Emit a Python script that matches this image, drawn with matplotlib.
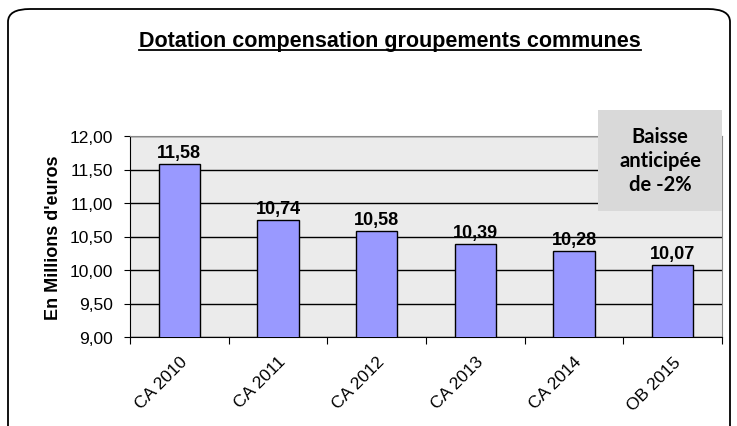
import matplotlib
matplotlib.use('Agg')
import matplotlib.pyplot as plt
from matplotlib.patches import FancyBboxPatch
from matplotlib.lines import Line2D
import numpy as np

categories = ['CA 2010', 'CA 2011', 'CA 2012', 'CA 2013', 'CA 2014', 'OB 2015']
values = [11.58, 10.74, 10.58, 10.39, 10.28, 10.07]
yticks = [9.0, 9.5, 10.0, 10.5, 11.0, 11.5, 12.0]
title = 'Dotation compensation groupements communes'
note = 'Baisse\nanticipée\nde -2%'

plt.rcParams['font.family'] = ['Liberation Sans', 'DejaVu Sans']

fig = plt.figure(figsize=(7.37, 4.27), dpi=100)

# rounded outer frame (bottom edge falls outside the picture)
frame = FancyBboxPatch((8/737, -0.1), 722/737, 1 - 10/427 + 0.1,
                       boxstyle='round,pad=0,rounding_size=0.03',
                       transform=fig.transFigure, fill=False,
                       edgecolor='black', linewidth=1.3)
fig.patches.append(frame)

ax = fig.add_axes([130/737, 1 - 338/427, (722 - 130)/737, (338 - 137)/427])
ax.set_facecolor('#ebebeb')

x = np.arange(len(categories))
ax.bar(x, values, width=0.42, color='#9999ff', edgecolor='black', linewidth=1, zorder=3)
for xi, v in zip(x, values):
    ax.text(xi, v + 0.05, f'{v:.2f}'.replace('.', ','), ha='center', va='bottom',
            fontsize=13, fontweight='bold', zorder=4)

ax.set_ylim(9, 12)
ax.set_xlim(-0.5, len(categories) - 0.5)
ax.set_yticks(yticks)
ax.set_yticklabels([f'{t:.2f}'.replace('.', ',') for t in yticks], fontsize=12.5)
ax.yaxis.grid(True, color='black', linewidth=1, zorder=1)
ax.set_axisbelow(True)

ax.set_xticks(np.arange(len(categories) + 1) - 0.5)
ax.set_xticklabels([])
ax.set_xticks(x, minor=True)
ax.set_xticklabels(categories, minor=True, rotation=45, ha='right',
                   rotation_mode='anchor', fontsize=12.5)
ax.tick_params(axis='x', which='minor', length=0, pad=12)
ax.tick_params(axis='x', which='major', length=5, direction='out')
ax.tick_params(axis='y', length=4, direction='out', pad=8)

for side in ['top', 'right']:
    ax.spines[side].set_color('#888888')
for side in ['left', 'bottom']:
    ax.spines[side].set_color('black')

ax.set_ylabel("En Millions d'euros", fontsize=13, fontweight='bold', labelpad=6)

t = fig.text(390/737, 1 - 42/427, title, ha='center', va='center',
             fontsize=15.5, fontweight='bold')
fig.canvas.draw()
bb = t.get_window_extent().transformed(fig.transFigure.inverted())
fig.add_artist(Line2D([bb.x0, bb.x1], [bb.y0 + 0.004, bb.y0 + 0.004],
                      transform=fig.transFigure, color='black', linewidth=1.3))

# note box
fig.patches.append(plt.Rectangle((598/737, 1 - 212/427), (722 - 598)/737, (212 - 111)/427,
                                 transform=fig.transFigure, facecolor='#d9d9d9',
                                 edgecolor='none', zorder=5))
fig.text(660/737, 1 - 161/427, note, ha='center', va='center', fontsize=14.5,
         fontweight='bold', family=['Lato', 'DejaVu Sans'], linespacing=1.25, zorder=6)

fig.savefig('out.png', dpi=100)
